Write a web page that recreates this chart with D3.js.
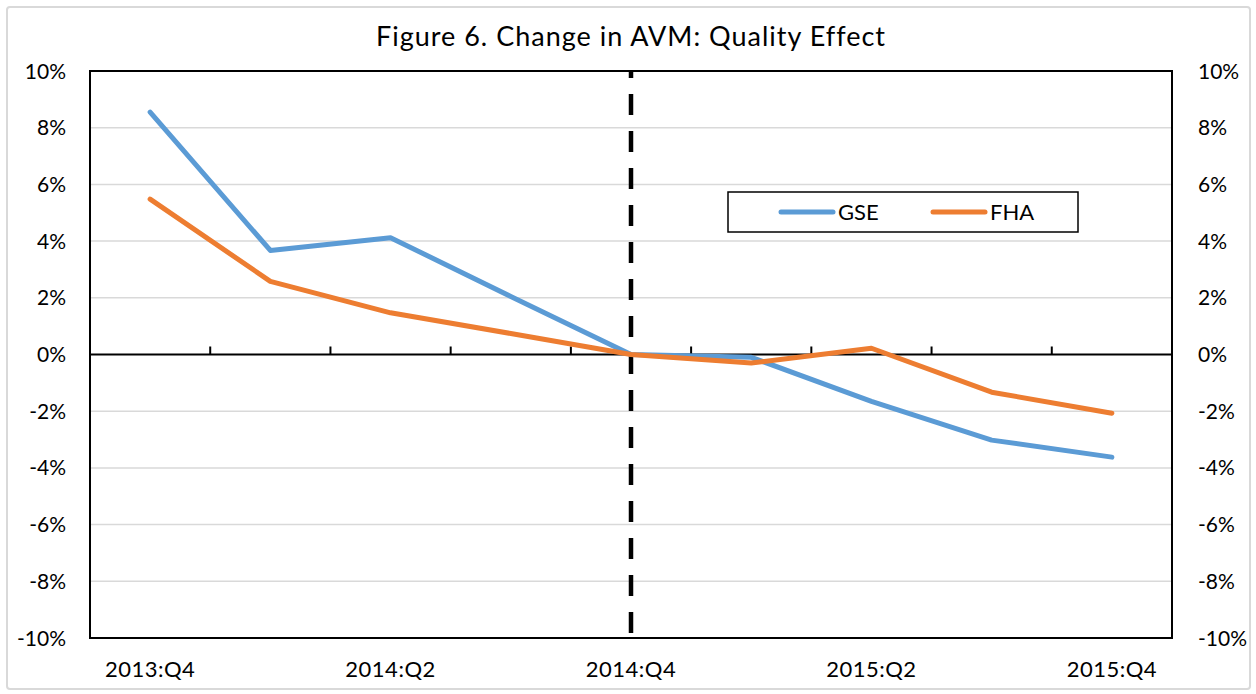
<!DOCTYPE html>
<html>
<head>
    <meta charset="UTF-8">
    <title>Figure 6. Change in AVM: Quality Effect</title>
    <script src="https://d3js.org/d3.v7.min.js"></script>
    <style type="text/css">
        body { margin: 0; background: white; }
        text { font-family: Lato, "Open Sans", sans-serif; fill: #000; }
    </style>
</head>
<body>
    <svg id="chart"></svg>

    <script>
        const width = 1256;
        const height = 694;
        const plot = { left: 90, right: 1172, top: 71, bottom: 638 };

        const quarters = ["2013:Q4", "2014:Q1", "2014:Q2", "2014:Q3", "2014:Q4",
                          "2015:Q1", "2015:Q2", "2015:Q3", "2015:Q4"];
        const shownLabels = ["2013:Q4", "2014:Q2", "2014:Q4", "2015:Q2", "2015:Q4"];
        const gse = [8.55, 3.67, 4.12, 2.05, 0.0, -0.1, -1.65, -3.02, -3.62];
        const fha = [5.48, 2.58, 1.47, 0.74, 0.0, -0.3, 0.22, -1.33, -2.07];
        const yTicks = [-10, -8, -6, -4, -2, 0, 2, 4, 6, 8, 10];
        const markerQuarter = "2014:Q4";

        const svg = d3.select("#chart")
            .attr("width", width)
            .attr("height", height);

        // outer chart frame
        svg.append("rect")
            .attr("x", 7).attr("y", 7)
            .attr("width", 1243).attr("height", 682)
            .attr("rx", 3)
            .style("fill", "white")
            .style("stroke", "#d9d9d9")
            .style("stroke-width", 2);

        const x = d3.scaleBand().domain(quarters).range([plot.left, plot.right]);
        const y = d3.scaleLinear().domain([-10, 10]).range([plot.bottom, plot.top]);
        const cx = q => x(q) + x.bandwidth() / 2;

        svg.append("text")
            .attr("x", 631)
            .attr("y", 46)
            .attr("text-anchor", "middle")
            .style("font-size", "27px")
            .style("letter-spacing", "1px")
            .text("Figure 6. Change in AVM: Quality Effect");

        // gridlines
        svg.append("g").selectAll("line")
            .data(yTicks.filter(t => t !== 0))
            .join("line")
            .attr("x1", plot.left).attr("x2", plot.right)
            .attr("y1", d => y(d)).attr("y2", d => y(d))
            .style("stroke", "#d9d9d9")
            .style("stroke-width", 1.5);

        // left and right axis labels
        const fmt = d => d + "%";
        svg.append("g").selectAll("text")
            .data(yTicks)
            .join("text")
            .attr("x", 66)
            .attr("y", d => y(d))
            .attr("dy", "0.36em")
            .attr("text-anchor", "end")
            .style("font-size", "21px")
            .text(fmt);
        svg.append("g").selectAll("text")
            .data(yTicks)
            .join("text")
            .attr("x", 1198)
            .attr("y", d => y(d))
            .attr("dy", "0.36em")
            .attr("text-anchor", "start")
            .style("font-size", "21px")
            .text(fmt);

        // category labels
        svg.append("g").selectAll("text")
            .data(shownLabels)
            .join("text")
            .attr("x", d => cx(d))
            .attr("y", 677)
            .attr("text-anchor", "middle")
            .style("font-size", "22px")
            .style("letter-spacing", "0.5px")
            .text(d => d);

        // plot border
        svg.append("rect")
            .attr("x", plot.left).attr("y", plot.top)
            .attr("width", plot.right - plot.left)
            .attr("height", plot.bottom - plot.top)
            .style("fill", "none")
            .style("stroke", "black")
            .style("stroke-width", 2);

        // zero axis with tick marks between categories
        svg.append("line")
            .attr("x1", plot.left).attr("x2", plot.right)
            .attr("y1", y(0)).attr("y2", y(0))
            .style("stroke", "black")
            .style("stroke-width", 2);
        svg.append("g").selectAll("line")
            .data(quarters.slice(1))
            .join("line")
            .attr("x1", d => x(d)).attr("x2", d => x(d))
            .attr("y1", y(0)).attr("y2", y(0) - 8)
            .style("stroke", "black")
            .style("stroke-width", 2);

        // dashed marker line
        svg.append("line")
            .attr("x1", cx(markerQuarter)).attr("x2", cx(markerQuarter))
            .attr("y1", plot.bottom).attr("y2", plot.top)
            .style("stroke", "black")
            .style("stroke-width", 4.5)
            .style("stroke-dasharray", "21,16")
            .style("stroke-dashoffset", 32);

        const line = d3.line()
            .x((d, i) => cx(quarters[i]))
            .y(d => y(d));

        const series = [
            { name: "GSE", values: gse, color: "#5b9bd5" },
            { name: "FHA", values: fha, color: "#ed7d31" }
        ];

        series.forEach(s => {
            svg.append("path")
                .attr("d", line(s.values))
                .style("fill", "none")
                .style("stroke", s.color)
                .style("stroke-width", 5)
                .style("stroke-linecap", "round")
                .style("stroke-linejoin", "round");
        });

        // legend
        const legend = svg.append("g");
        legend.append("rect")
            .attr("x", 728).attr("y", 192)
            .attr("width", 350).attr("height", 40)
            .style("fill", "white")
            .style("stroke", "black")
            .style("stroke-width", 1.5);
        series.forEach((s, i) => {
            const lx = 781 + i * 152;
            legend.append("line")
                .attr("x1", lx).attr("x2", lx + 52)
                .attr("y1", 212).attr("y2", 212)
                .style("stroke", s.color)
                .style("stroke-width", 5)
                .style("stroke-linecap", "round");
            legend.append("text")
                .attr("x", lx + 57)
                .attr("y", 212)
                .attr("dy", "0.36em")
                .style("font-size", "22px")
                .text(s.name);
        });
    </script>
</body>
</html>
